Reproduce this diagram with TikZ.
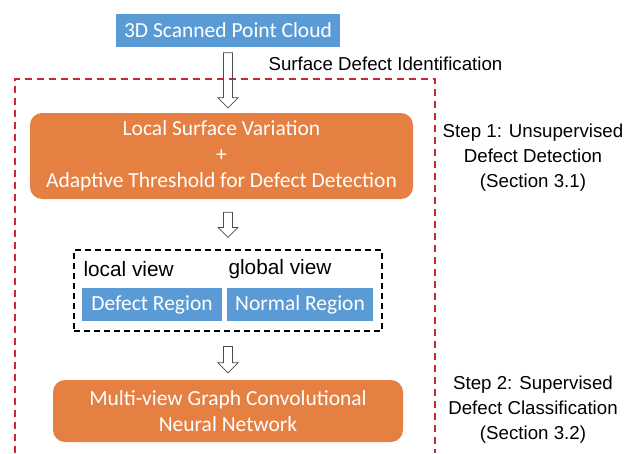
\documentclass[tikz,border=0pt]{standalone}
\usepackage{fontspec}
\setmainfont{Liberation Sans}
\newfontfamily\calibri{Carlito}
\usetikzlibrary{calc}
\definecolor{boxblue}{RGB}{91,155,213}
\definecolor{boxorange}{RGB}{229,128,66}
\definecolor{boxred}{RGB}{200,40,50}
% hollow block arrow from #1 down to its tip #2
\newcommand\hollowarrow[2]{%
  \draw[black!70,line width=0.7pt] let \p1=(#1), \p2=(#2) in
    (\x1-4.5pt,\y1) -- (\x1+4.5pt,\y1) -- (\x1+4.5pt,\y2+10pt) -- (\x1+10pt,\y2+10pt)
    -- (\x1,\y2) -- (\x1-10pt,\y2+10pt) -- (\x1-4.5pt,\y2+10pt) -- cycle;}

\begin{document}
\begin{tikzpicture}[x=1pt,y=-1pt,
  bluebox/.style={fill=boxblue,text=white,inner sep=0pt,font=\calibri\fontsize{21.5}{24}\selectfont},
  orangebox/.style={fill=boxorange,rounded corners=12pt,text=white,align=center,inner sep=0pt,
    font=\calibri\fontsize{21.5}{26}\selectfont},
  note/.style={align=center,font=\fontsize{18.7}{25}\selectfont}]
\useasboundingbox (0,0) rectangle (635,453);
% outer frame of the two steps
\draw[boxred,line width=1.3pt,dash pattern=on 7pt off 5pt] (15,453) -- (15,79) -- (435,79) -- (435,453);
\node[bluebox,minimum width=224,minimum height=33] (cloud) at (228,30) {3D Scanned Point Cloud};
\node[note,anchor=west] (sdi) at (265,64) {Surface Defect Identification};
\node[orangebox,minimum width=383,minimum height=86] (lsv) at (221.5,156)
  {Local Surface Variation\\+\\Adaptive Threshold for Defect Detection};
\node[draw,line width=1.1pt,dash pattern=on 6pt off 4pt,minimum width=308,minimum height=81,inner sep=0pt]
  (views) at (228,290.5) {};
\node[note,anchor=west,font=\fontsize{20.8}{25}\selectfont] (local) at (80,269) {local view};
\node[note,anchor=west,font=\fontsize{20.8}{25}\selectfont] (global) at (225,269) {global view};
\node[bluebox,minimum width=140,minimum height=33] (defect) at (152,304.5) {Defect Region};
\node[bluebox,minimum width=146,minimum height=33] (normal) at (300,304.5) {Normal Region};
\node[orangebox,minimum width=350,minimum height=62] (mgcn) at (228,411)
  {Multi-view Graph Convolutional\\Neural Network};
\node[note] (step1) at (533,158) {Step 1: Unsupervised\\Defect Detection\\(Section 3.1)};
\node[note] (step2) at (533,410) {Step 2: Supervised\\Defect Classification\\(Section 3.2)};
\hollowarrow{[yshift=-6pt]cloud.south}{[yshift=5pt]lsv.north}
\hollowarrow{[yshift=-13pt,xshift=6.5pt]lsv.south}{[yshift=12pt]views.north}
\hollowarrow{[yshift=-15pt]views.south}{[yshift=7pt]mgcn.north}
\end{tikzpicture}
\end{document}
